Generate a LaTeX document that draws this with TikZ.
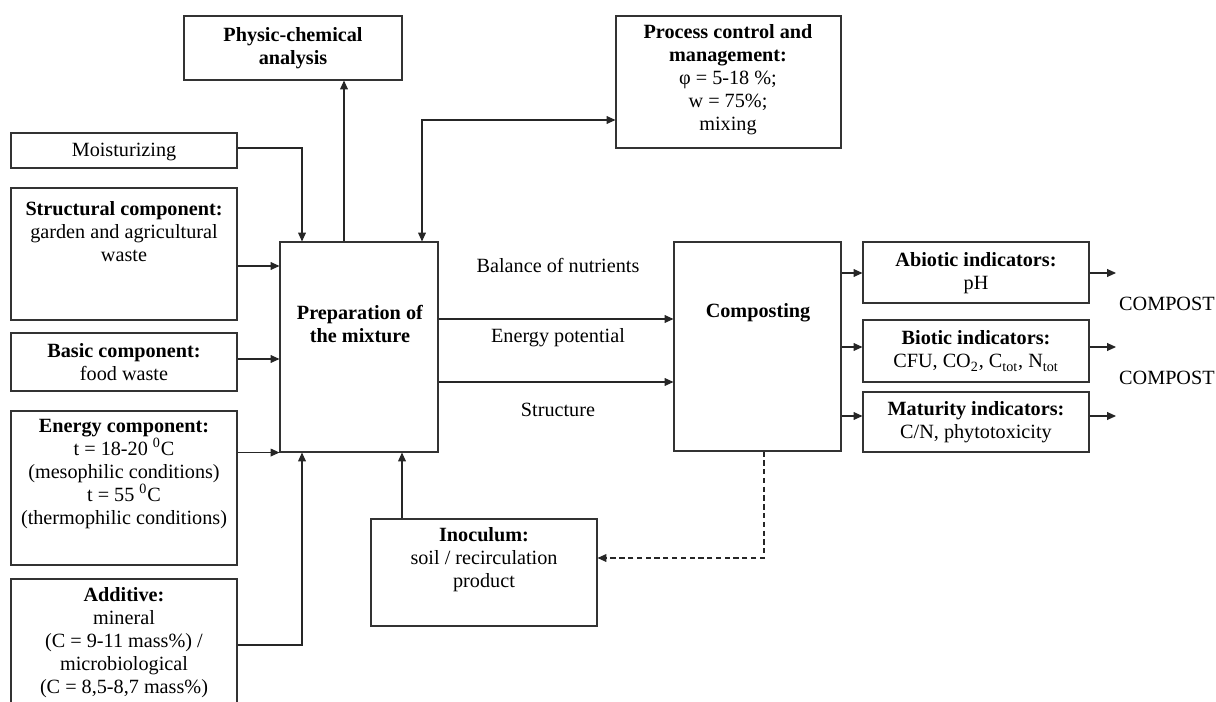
\documentclass[tikz,border=0pt]{standalone}
\usepackage{fontspec}
\setmainfont{Liberation Serif}
\usetikzlibrary{arrows.meta, fit}

\begin{document}
\begin{tikzpicture}[x=0.02cm, y=-0.02cm,
    box/.style={draw=black!80, line width=0.6pt, inner sep=0pt},
    txt/.style={align=center, inner sep=0pt, font=\fontsize{11.5}{13.1}\selectfont},
    arr/.style={draw=black!85, line width=0.6pt, -{Triangle[length=5pt,width=4.4pt]}},
    arrboth/.style={arr, {Triangle[length=5pt,width=4.4pt]}-{Triangle[length=5pt,width=4.4pt]}},
    dasharr/.style={arr, dashed, dash pattern=on 3pt off 2pt}]

    % Page frame
    \path[use as bounding box, clip] (0,0) rectangle (1216,702);

    % Input boxes (left column)
    \node[box, fit={(11,133) (237,168)}] (moist) {};
    \node[box, fit={(11,188) (237,320)}] (struct) {};
    \node[box, fit={(11,333) (237,391)}] (basic) {};
    \node[box, fit={(11,411) (237,565)}] (energy) {};
    \node[box, fit={(11,579) (237,720)}] (additive) {};

    \node[txt] (moisttext) at (124,152) {Moisturizing};
    \node[txt] (structtext) at (124,232) {\textbf{Structural component:}\\garden and agricultural\\waste};
    \node[txt] (basictext) at (124,362) {\textbf{Basic component:}\\food waste};
    \node[txt] (energytext) at (124,474) {\textbf{Energy component:}\\t = 18-20 \textsuperscript{0}C\\(mesophilic conditions)\\t = 55 \textsuperscript{0}C\\(thermophilic conditions)};
    \node[txt] (additivetext) at (124,643) {\textbf{Additive:}\\mineral\\(C = 9-11 mass\%) /\\microbiological\\(C = 8,5-8,7 mass\%)};

    % Main process boxes
    \node[box, fit={(280,242) (438,452)}] (prep) {};
    \node[box, fit={(184,16) (402,80)}] (phys) {};
    \node[box, fit={(616,16) (841,148)}] (proc) {};
    \node[box, fit={(674,242) (841,451)}] (comp) {};
    \node[box, fit={(371,519) (597,626)}] (inoc) {};

    \node[txt] (preptext) at (360,324) {\textbf{Preparation of}\\\textbf{the mixture}};
    \node[txt] (phystext) at (293,48) {\textbf{Physic-chemical}\\\textbf{analysis}};
    \node[txt] (proctext) at (728,80) {\textbf{Process control and}\\\textbf{management:}\\φ = 5-18 \%;\\w = 75\%;\\mixing};
    \node[txt] (comptext) at (758,313) {\textbf{Composting}};
    \node[txt] (inoctext) at (484,560) {\textbf{Inoculum:}\\soil / recirculation\\product};

    % Indicator boxes (right column)
    \node[box, fit={(863,242) (1089,303)}] (abio) {};
    \node[box, fit={(863,320) (1089,382)}] (bio) {};
    \node[box, fit={(863,392) (1089,452)}] (mat) {};

    \node[txt] (abiotext) at (976,273) {\textbf{Abiotic indicators:}\\pH};
    \node[txt] (biotext) at (976,351) {\textbf{Biotic indicators:}\\CFU, CO\textsubscript{2}, C\textsubscript{tot}, N\textsubscript{tot}};
    \node[txt] (mattext) at (976,422) {\textbf{Maturity indicators:}\\C/N, phytotoxicity};

    % Flow labels and outputs
    \node[txt] (nutr) at (558,265) {Balance of nutrients};
    \node[txt] (enpot) at (558,338) {Energy potential};
    \node[txt] (structure) at (558,410) {Structure};
    \node[txt, anchor=east] (compost1) at (1215,304) {COMPOST};
    \node[txt, anchor=east] (compost2) at (1215,378) {COMPOST};

    \coordinate (out1) at (1116,273);
    \coordinate (out2) at (1116,347);
    \coordinate (out3) at (1116,416);

    % Connectors into the mixture
    \draw[arr] (moist.east |- 0,148) -| (302,0 |- prep.north);
    \draw[arr] (struct.east |- 0,266) -- (prep.west |- 0,266);
    \draw[arr] (basic.east |- 0,359) -- (prep.west |- 0,359);
    \draw[arr] (energy.east |- prep.south west) -- (prep.south west);
    \draw[arr] (additive.east |- 0,645) -| (302,0 |- prep.south);
    \draw[arr] (402,0 |- inoc.north) -- (402,0 |- prep.south);

    % Connectors out of the mixture
    \draw[arr] (344,0 |- prep.north) -- (344,0 |- phys.south);
    \draw[arrboth] (422,0 |- prep.north) |- (proc.west |- 0,120);
    \draw[arr] (prep.east |- 0,319) -- (comp.west |- 0,319);
    \draw[arr] (prep.east |- 0,382) -- (comp.west |- 0,382);

    % Composting to indicators
    \draw[arr] (comp.east |- out1) -- (abio.west |- out1);
    \draw[arr] (comp.east |- out2) -- (bio.west |- out2);
    \draw[arr] (comp.east |- out3) -- (mat.west |- out3);
    \draw[arr] (abio.east |- out1) -- (out1);
    \draw[arr] (bio.east |- out2) -- (out2);
    \draw[arr] (mat.east |- out3) -- (out3);

    % Recirculation
    \draw[dasharr] (764,0 |- comp.south) |- (inoc.east |- 0,558);

\end{tikzpicture}
\end{document}
